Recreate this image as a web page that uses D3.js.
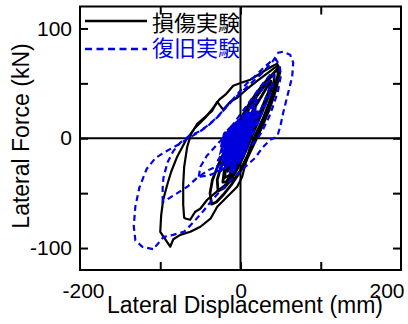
<!DOCTYPE html>
<html>
<head>
<meta charset="utf-8">
<script src="https://cdn.jsdelivr.net/npm/d3@7"></script>
<style>
  body { margin: 0; background: #fff; }
  text { font-family: "Liberation Sans", Arial, sans-serif; }
</style>
</head>
<body>
<script>
// 損傷実験 (black) loops, [displacement mm, force kN]
var damageLoop1 = [[-87.6,-98.8],[-100,-85.2],[-98.8,-69.7],[-96.3,-56],[-91.3,-42.4],[-86.4,-30.5],[-78.9,-16.8],[-67.7,-1.4],[-56.4,9.6],[-43.9,18.7],[-33.9,27.8],[-26.5,35.1],[-17.7,40.5],[-9.1,47.8],[0.9,50.6],[12.1,53.3],[22.1,57.8],[32,62.4],[40.7,66.1],[45.7,67.9],
  [48.2,62.4],[43.2,48.7],[34.5,30.5],[27,16.8],[18.3,3.2],[10.8,-10.5],[5.9,-24.1],[2.1,-35.1],[-4.1,-44.2],[-16.6,-53.3],[-29,-62.4],[-37.4,-73.3],[-50,-80.6],[-62.5,-85.2],[-75,-88],[-83.7,-92]];
var damageLoop2 = [[-70.2,-72.4],[-71.4,-60.6],[-71.4,-42.4],[-70.2,-26],[-66.4,-7.7],[-61.4,4.1],[-53.9,13.2],[-45.2,18.7],[-35.3,25],[-29,33.2],[-21.6,26],[-12.8,33.2],[-4.1,36.9],[7.1,44.2],[19.6,51.5],[30.8,57.8],[40.7,63.3],[47,66.1],
  [49.5,60.6],[44.5,44.2],[37,27.8],[28.3,12.3],[19.6,-1.4],[10.8,-15],[3.4,-26.9],[-6.6,-36],[-19.1,-42.4],[-31.5,-49.7],[-41.5,-56],[-50.2,-64.2],[-56.4,-66.9],[-62.7,-74.2],[-67.7,-73.3]];
var damageLoop3 = [[-36,-60],[-38,-50],[-35,-38],[-28,-25],[-20,-12],[-12,0],[-4,12],[5,24],[14,35],[24,45],[34,54],[42,60],[46,63],
  [47,57],[43,45],[37,32],[30,18],[22,5],[14,-8],[6,-20],[-2,-32],[-12,-43],[-22,-52],[-30,-58]];
var damageLoop4 = [[-28,-48],[-29,-38],[-24,-25],[-16,-12],[-8,0],[0,12],[10,26],[20,38],[30,48],[38,56],[42,58],
  [42,52],[36,40],[28,26],[20,12],[12,-2],[4,-16],[-4,-28],[-12,-38],[-20,-45]];
var damageLoop5 = [[-22,-40],[-20,-28],[-12,-14],[-4,-2],[6,12],[16,26],[26,38],[34,48],[38,52],
  [36,44],[28,30],[20,16],[12,2],[4,-12],[-4,-24],[-12,-34],[-18,-40]];
var damageLoop6 = [[-16,-30],[-14,-18],[-6,-6],[4,6],[14,18],[20,24],[18,14],[10,2],[2,-10],[-8,-22]];
var damageLoop7 = [[-20,-36],[-18,-26],[-10,-14],[-2,-4],[6,6],[10,8],[6,-4],[0,-16],[-8,-28],[-14,-34]];

// 復旧実験 (blue dashed) loops
var repairLoop1 = [[-109,-101],[-122,-99],[-131,-93],[-133,-80],[-131,-62],[-126,-45],[-117,-28],[-106,-18],[-93,-12],[-78,-6],[-65,0],[-53,5],[-41,11],[-29,19],[-18,28],[-8,36],[4,44],[16,52],[28,60],[40,70],[47,77.9],[53.2,78.8],[61.9,76],[65.7,68.8],
  [64.4,56],[59.4,41.4],[53.2,23.2],[49.5,10.5],[45.7,1.4],[37,-1.4],[28,-8],[18,-18],[6,-26],[-6,-34],[-20,-44],[-34,-55],[-46,-66],[-58,-76],[-70,-85],[-84,-88],[-96,-90],[-104,-97]];
var repairLoop2 = [[-97,-58],[-97,-45],[-96,-36],[-91,-22],[-84,-12],[-75,-4],[-64,2],[-52,6],[-40,12],[-28,20],[-16,30],[-4,40],[8,50],[20,58],[30,65],[38,70],[44,72],
  [49,66],[50,56],[47,44],[42,32],[36,20],[28,8],[20,-2],[10,-8],[-2,-14],[-14,-20],[-28,-25],[-40,-29],[-54,-36],[-66,-44],[-81,-51],[-92,-56]];
var repairLoop3 = [[-52,-35],[-50,-26],[-42,-16],[-32,-8],[-22,0],[-12,10],[-2,20],[8,30],[18,40],[28,50],[36,57],[40,60],
  [42,55],[38,44],[32,32],[25,20],[18,8],[10,-2],[0,-12],[-12,-22],[-26,-30],[-40,-34]];
var repairLoop4 = [[-30,-30],[-28,-20],[-20,-10],[-10,2],[0,14],[10,26],[20,38],[30,48],[35,52],
  [36,46],[30,34],[22,20],[14,8],[6,-4],[-4,-16],[-14,-24],[-24,-30]];
// dense small cycles near the origin
var repairCore1 = [[-20,-25],[-18,-12],[-10,0],[0,10],[10,18],[14,20],[12,12],[6,2],[-2,-8],[-10,-18]];
var repairCore2 = [[-15,-22],[-16,-10],[-8,2],[2,12],[12,22],[16,24],[14,14],[6,4],[-2,-6],[-8,-16]];
var repairCore3 = [[-22,-18],[-18,-6],[-12,4],[-4,12],[6,16],[8,10],[2,0],[-6,-10],[-14,-18]];
var repairCore4 = [[-12,-28],[-10,-16],[-4,-6],[4,4],[12,14],[18,20],[16,10],[10,0],[2,-12],[-6,-22]];
var repairCore5 = [[-24,-8],[-20,4],[-12,10],[-2,16],[6,18],[4,10],[-4,2],[-14,-6]];
var repairCore6 = [[-8,-26],[-4,-14],[4,-2],[10,8],[12,4],[8,-8],[2,-18]];
var repairCore7 = [[-25,-30],[-22,-18],[-14,-6],[-4,6],[6,18],[16,30],[20,36],[18,26],[10,14],[0,2],[-10,-10],[-18,-22]];
var repairCore8 = [[-10,-32],[-8,-20],[0,-8],[8,4],[16,16],[22,26],[20,16],[12,4],[4,-8],[-4,-22]];
var repairCore9 = [[-24,-12],[-20,0],[-12,8],[-2,16],[6,22],[4,14],[-4,4],[-14,-6]];

var xTicks = [-100, 0, 100];
var xLabels = [-200, 0, 200];
var yTicks = [-100, -50, 0, 50, 100];
var yLabels = [-100, 0, 100];
var legendNames = ["損傷実験", "復旧実験"];

var width = 408, height = 324;
var plot = {left: 80, right: 401, top: 6.5, bottom: 270};

var svg = d3.select("body").append("svg")
    .attr("width", width)
    .attr("height", height);

var x = d3.scaleLinear().domain([-200, 200]).range([plot.left, plot.right]);
var y = d3.scaleLinear().domain([-120, 120]).range([plot.bottom, plot.top]);

svg.append("clipPath").attr("id", "clip")
  .append("rect")
    .attr("x", plot.left).attr("y", plot.top)
    .attr("width", plot.right - plot.left).attr("height", plot.bottom - plot.top);

// zero lines
svg.append("line")
    .attr("x1", x(-200)).attr("x2", x(200)).attr("y1", y(0)).attr("y2", y(0))
    .attr("stroke", "#000").attr("stroke-width", 2);
svg.append("line")
    .attr("x1", x(0)).attr("x2", x(0)).attr("y1", y(-120)).attr("y2", y(120))
    .attr("stroke", "#000").attr("stroke-width", 2);

var line = d3.line()
    .x(d => x(d[0]))
    .y(d => y(d[1]))
    .curve(d3.curveLinearClosed);

var curves = svg.append("g").attr("clip-path", "url(#clip)");

[damageLoop1, damageLoop2, damageLoop3, damageLoop4, damageLoop5, damageLoop6, damageLoop7].forEach(function(loop, i) {
  curves.append("path")
      .attr("d", line(loop))
      .attr("fill", "none")
      .attr("stroke", "#000")
      .attr("stroke-width", i < 2 ? 2.2 : 2.8)
      .attr("stroke-linejoin", "round");
});

[repairLoop1, repairLoop2, repairLoop3, repairLoop4].forEach(function(loop) {
  curves.append("path")
      .attr("d", line(loop))
      .attr("fill", "none")
      .attr("stroke", "#0000ee")
      .attr("stroke-width", 2.2)
      .attr("stroke-dasharray", "6,4");
});

// the small cycles overlap so tightly that they read as a solid patch
[repairCore1, repairCore2, repairCore3, repairCore4, repairCore5, repairCore6].forEach(function(loop) {
  curves.append("path")
      .attr("d", line(loop))
      .attr("fill", "#0000dd")
      .attr("stroke", "#0000dd")
      .attr("stroke-width", 3)
      .attr("stroke-dasharray", "7,2");
});
[repairCore7, repairCore8, repairCore9].forEach(function(loop) {
  curves.append("path")
      .attr("d", line(loop))
      .attr("fill", "none")
      .attr("stroke", "#0000dd")
      .attr("stroke-width", 3)
      .attr("stroke-dasharray", "7,3");
});

// frame
svg.append("rect")
    .attr("x", plot.left).attr("y", plot.top)
    .attr("width", plot.right - plot.left).attr("height", plot.bottom - plot.top)
    .attr("fill", "none").attr("stroke", "#000").attr("stroke-width", 2);

// inward ticks on all four sides
function ticks(g) {
  g.select(".domain").remove();
  g.selectAll(".tick line").attr("stroke", "#000").attr("stroke-width", 2);
}
svg.append("g").attr("transform", "translate(0," + plot.bottom + ")")
    .call(d3.axisBottom(x).tickValues(xTicks).tickSize(-8).tickFormat("")).call(ticks);
svg.append("g").attr("transform", "translate(0," + plot.top + ")")
    .call(d3.axisTop(x).tickValues(xTicks).tickSize(-8).tickFormat("")).call(ticks);
svg.append("g").attr("transform", "translate(" + plot.left + ",0)")
    .call(d3.axisLeft(y).tickValues(yTicks).tickSize(-8).tickFormat("")).call(ticks);
svg.append("g").attr("transform", "translate(" + plot.right + ",0)")
    .call(d3.axisRight(y).tickValues(yTicks).tickSize(-8).tickFormat("")).call(ticks);

// tick labels (plain hyphen minus like the original)
var xl = svg.append("g").attr("transform", "translate(0," + plot.bottom + ")")
    .call(d3.axisBottom(x).tickValues(xLabels).tickSize(0).tickFormat(d => String(d)));
xl.select(".domain").remove();
xl.selectAll("text")
    .attr("y", 28).attr("dy", 0)
    .attr("font-size", 21).attr("fill", "#000")
    .attr("font-family", "Liberation Sans, Arial, sans-serif")
    .attr("dx", d => d === -200 ? 3 : 0)
    .attr("text-anchor", d => d === 200 ? "end" : "middle")
    .attr("x", d => d === 200 ? 3 : 0);

var yl = svg.append("g").attr("transform", "translate(" + plot.left + ",0)")
    .call(d3.axisLeft(y).tickValues(yLabels).tickSize(0).tickPadding(8).tickFormat(d => String(d)));
yl.select(".domain").remove();
yl.selectAll("text")
    .attr("font-size", 21).attr("fill", "#000")
    .attr("font-family", "Liberation Sans, Arial, sans-serif");

// axis titles
svg.append("text")
    .attr("x", 245).attr("y", 313)
    .attr("text-anchor", "middle")
    .attr("font-size", 23)
    .text("Lateral Displacement (mm)");
svg.append("text")
    .attr("transform", "translate(29,136) rotate(-90)")
    .attr("text-anchor", "middle")
    .attr("font-size", 23)
    .text("Lateral Force (kN)");

// legend
var legend = svg.append("g");
legend.append("line")
    .attr("x1", 85).attr("x2", 147).attr("y1", 21).attr("y2", 21)
    .attr("stroke", "#000").attr("stroke-width", 2.5);
legend.append("line")
    .attr("x1", 85).attr("x2", 147).attr("y1", 49).attr("y2", 49)
    .attr("stroke", "#0000ee").attr("stroke-width", 2.5)
    .attr("stroke-dasharray", "7,4.5");
legend.selectAll(".lbl")
  .data(legendNames)
  .enter().append("text")
    .attr("x", 152)
    .attr("y", (d, i) => 31 + i * 25)
    .attr("font-size", 22)
    .attr("fill", (d, i) => i === 0 ? "#000" : "#0000ee")
    .style("font-family", "'Noto Sans CJK JP', sans-serif")
    .text(d => d);
</script>
</body>
</html>
